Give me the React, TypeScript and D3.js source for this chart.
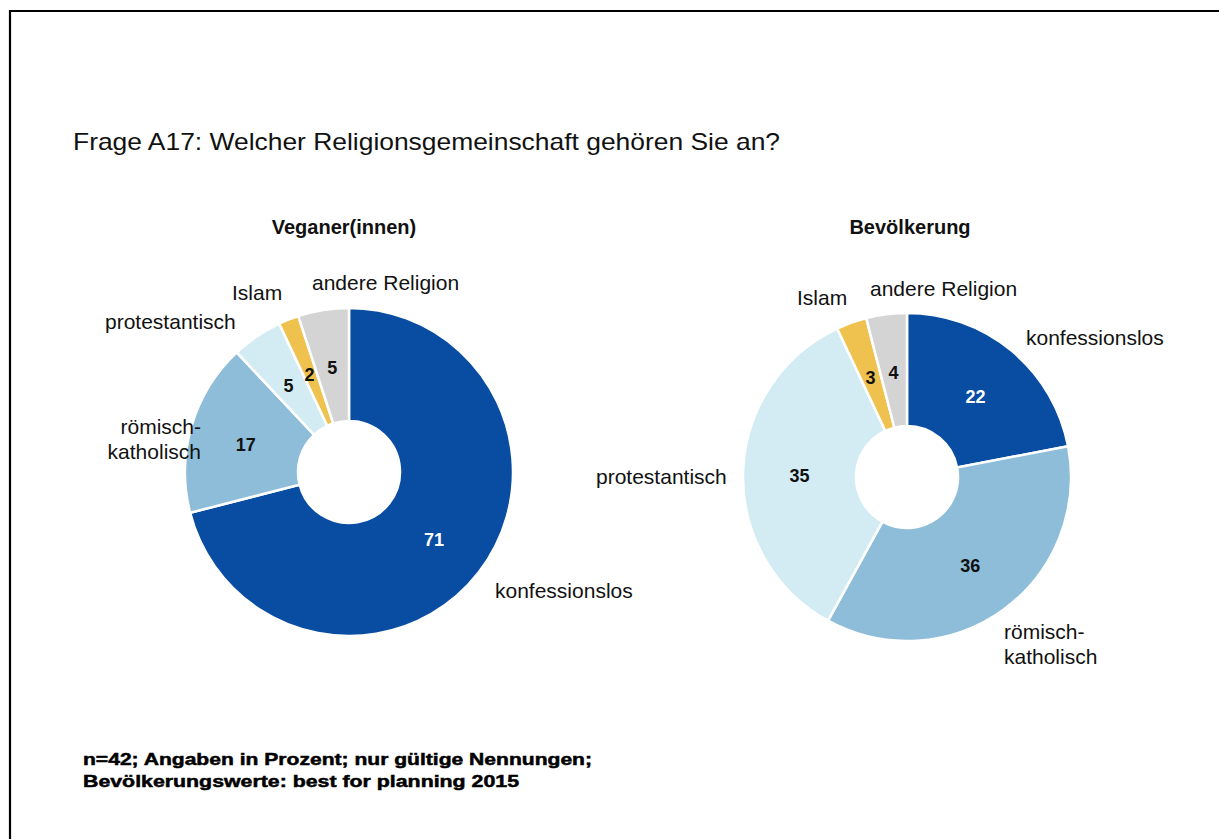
import React from "react";
import * as d3 from "d3";

const categories = ["konfessionslos", "römisch-katholisch", "protestantisch", "Islam", "andere Religion"];
const veganValues = [71, 17, 5, 2, 5];
const populationValues = [22, 36, 35, 3, 4];
const chartTitles = ["Veganer(innen)", "Bevölkerung"];
const titleText = "Frage A17: Welcher Religionsgemeinschaft gehören Sie an?";
const footnoteLines = [
  "n=42; Angaben in Prozent; nur gültige Nennungen;",
  "Bevölkerungswerte: best for planning 2015",
];

const colors = ["#084da1", "#8ebdd9", "#d3ecf4", "#efc250", "#d4d4d4"];
const valueTextColors = ["#ffffff", "#111111", "#111111", "#111111", "#111111"];

// label layout (lines, anchor, x, y of first baseline)
type Lbl = { lines: string[]; anchor: "start" | "end" | "middle"; x: number; y: number };
const layouts: { cx: number; cy: number; labels: Lbl[] }[] = [
  {
    cx: 349,
    cy: 472,
    labels: [
      { lines: ["konfessionslos"], anchor: "start", x: 495, y: 598 },
      { lines: ["römisch-", "katholisch"], anchor: "end", x: 201, y: 434 },
      { lines: ["protestantisch"], anchor: "start", x: 105, y: 329 },
      { lines: ["Islam"], anchor: "start", x: 232, y: 300 },
      { lines: ["andere Religion"], anchor: "start", x: 312, y: 290 },
    ],
  },
  {
    cx: 907,
    cy: 477,
    labels: [
      { lines: ["konfessionslos"], anchor: "start", x: 1026, y: 345 },
      { lines: ["römisch-", "katholisch"], anchor: "start", x: 1004, y: 639 },
      { lines: ["protestantisch"], anchor: "start", x: 596, y: 484 },
      { lines: ["Islam"], anchor: "start", x: 797, y: 305 },
      { lines: ["andere Religion"], anchor: "start", x: 870, y: 296 },
    ],
  },
];

const FONT = "'Liberation Sans', Arial, Helvetica, sans-serif";
const innerR = 51;
const outerR = 164;

function Donut({ values, idx }: { values: number[]; idx: number }) {
  const lay = layouts[idx];
  const data = categories.map((c, i) => ({ c, v: values[i], i }));
  const pie = d3.pie<{ c: string; v: number; i: number }>().sort(null).value((d) => d.v);
  const arcs = pie(data);
  const arc = d3.arc<d3.PieArcDatum<{ c: string; v: number; i: number }>>().innerRadius(innerR).outerRadius(outerR);
  return (
    <g>
      <g transform={`translate(${lay.cx},${lay.cy})`}>
        {arcs.map((a) => (
          <path key={a.data.c} d={arc(a) || ""} fill={colors[a.data.i]} stroke="#ffffff" strokeWidth={2.5} />
        ))}
        {arcs.map((a) => {
          const [x, y] = arc.centroid(a);
          return (
            <text
              key={"v" + a.data.c}
              x={x}
              y={y + 2}
              dy="0.36em"
              textAnchor="middle"
              fontFamily={FONT}
              fontWeight="bold"
              fontSize={18}
              fill={valueTextColors[a.data.i]}
            >
              {a.data.v}
            </text>
          );
        })}
      </g>
      {lay.labels.map((l, k) => (
        <text key={"l" + k} x={l.x} y={l.y} textAnchor={l.anchor} fontFamily={FONT} fontSize={21} fill="#111">
          {l.lines.map((ln, j) => (
            <tspan key={j} x={l.x} dy={j === 0 ? 0 : 25}>
              {ln}
            </tspan>
          ))}
        </text>
      ))}
      <text
        x={idx === 0 ? 344 : 910}
        y={234}
        textAnchor="middle"
        fontFamily={FONT}
        fontWeight="bold"
        fontSize={20}
        fill="#111"
      >
        {chartTitles[idx]}
      </text>
    </g>
  );
}

export default function App() {
  return (
    <svg
      width={1219}
      height={839}
      style={{ position: "absolute", left: 0, top: 0, background: "#fff" }}
    >
      <rect x={0} y={0} width={1219} height={839} fill="#fff" />
      <line x1={10} y1={11} x2={1219} y2={11} stroke="#000" strokeWidth={2.2} />
      <line x1={10} y1={10} x2={10} y2={839} stroke="#000" strokeWidth={2.2} />
      <text x={73} y={150} fontFamily={FONT} fontSize={24} fill="#111" textLength={707} lengthAdjust="spacingAndGlyphs">
        {titleText}
      </text>
      <Donut values={veganValues} idx={0} />
      <Donut values={populationValues} idx={1} />
      <text x={83} y={765} fontFamily={FONT} fontWeight={900} fontSize={17} fill="#000" textLength={509} lengthAdjust="spacingAndGlyphs" stroke="#000" strokeWidth={0.5}>
        {footnoteLines[0]}
      </text>
      <text x={83} y={787} fontFamily={FONT} fontWeight={900} fontSize={17} fill="#000" textLength={436} lengthAdjust="spacingAndGlyphs" stroke="#000" strokeWidth={0.5}>
        {footnoteLines[1]}
      </text>
    </svg>
  );
}
